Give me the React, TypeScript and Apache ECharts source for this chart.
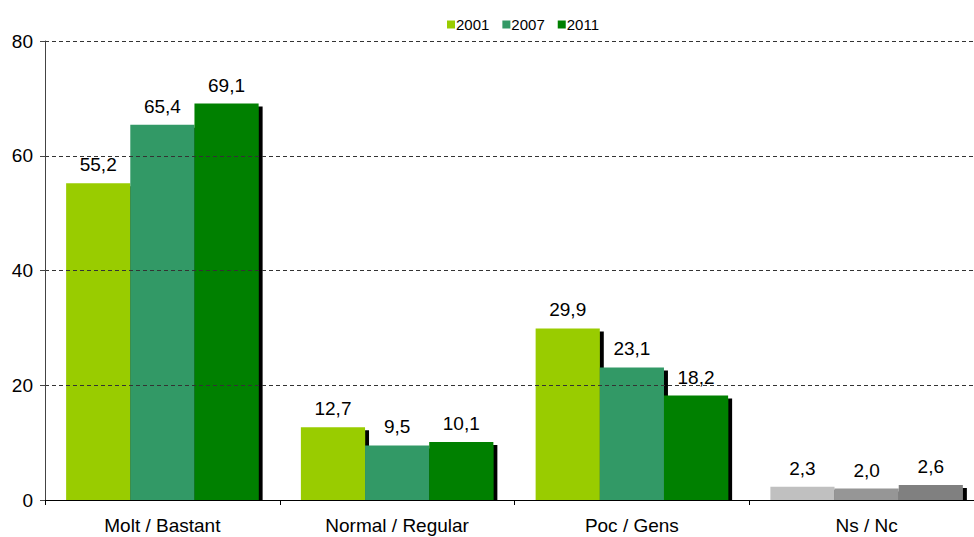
import React, { useEffect, useRef } from "react";
import * as echarts from "echarts";

const categories = ["Molt / Bastant", "Normal / Regular", "Poc / Gens", "Ns / Nc"];
const seriesNames = ["2001", "2007", "2011"];
const values2001 = [55.2, 12.7, 29.9, 2.3];
const values2007 = [65.4, 9.5, 23.1, 2.0];
const values2011 = [69.1, 10.1, 18.2, 2.6];
const seriesColors = ["#99CC00", "#339966", "#008000"];
const nsColors = ["#C0C0C0", "#969696", "#808080"];
const yTicks = [0, 20, 40, 60, 80];

export default function App() {
  const ref = useRef<HTMLDivElement>(null);
  useEffect(() => {
    document.body.style.margin = "0";
    document.body.style.overflow = "hidden";
    const chart = echarts.init(ref.current!, null, { renderer: "svg" });
    const all = [values2001, values2007, values2011];
    const font = "Liberation Sans, Arial, sans-serif";
    chart.setOption({
      animation: false,
      textStyle: { fontFamily: font },
      legend: {
        top: 12,
        left: 442,
        itemWidth: 8,
        itemHeight: 8,
        itemGap: 13,
        icon: "rect",
        textStyle: { fontSize: 15, color: "#000", fontFamily: font, padding: [0, 0, 0, -4] },
        data: seriesNames,
      },
      grid: { left: 45, right: 0, top: 41, bottom: 37, containLabel: false },
      graphic: [
        {
          type: "rect",
          z: 1.5,
          silent: true,
          shape: { x: 46, y: 500.5, width: 940, height: 5 },
          style: { fill: "#fff" },
        },
      ],
      xAxis: {
        type: "category",
        data: categories,
        z: 3,
        axisLine: { lineStyle: { color: "#000", width: 1 } },
        axisTick: { show: true, length: 5, lineStyle: { color: "#000" } },
        axisLabel: { fontSize: 19, color: "#000", margin: 16, fontFamily: font },
      },
      yAxis: {
        type: "value",
        min: yTicks[0],
        max: yTicks[yTicks.length - 1],
        interval: 20,
        z: 3,
        axisLine: { show: true, lineStyle: { color: "#444", width: 1 } },
        axisTick: { show: true, length: 5, lineStyle: { color: "#444" } },
        axisLabel: { fontSize: 19, color: "#000", margin: 12, fontFamily: font },
        splitLine: { show: true, lineStyle: { color: "#333", type: [4, 3], width: 1 } },
      },
      series: seriesNames.map((name, i) => ({
        name,
        type: "bar",
        z: 1,
        barGap: "0%",
        barCategoryGap: "18%",
        itemStyle: {
          color: seriesColors[i],
          shadowColor: "#000",
          shadowBlur: 0,
          shadowOffsetX: 4,
          shadowOffsetY: 3,
        },
        label: {
          show: true,
          position: "top",
          distance: 9,
          fontSize: 19,
          color: "#000",
          fontFamily: font,
          formatter: (p: any) => Number(p.value).toFixed(1).replace(".", ","),
        },
        data: all[i].map((v, j) =>
          j === 3 ? { value: v, itemStyle: { color: nsColors[i] } } : v
        ),
      })),
    });
    return () => chart.dispose();
  }, []);
  return (
    <div
      ref={ref}
      style={{ position: "absolute", left: 0, top: 0, width: 984, height: 537, background: "#fff" }}
    />
  );
}
